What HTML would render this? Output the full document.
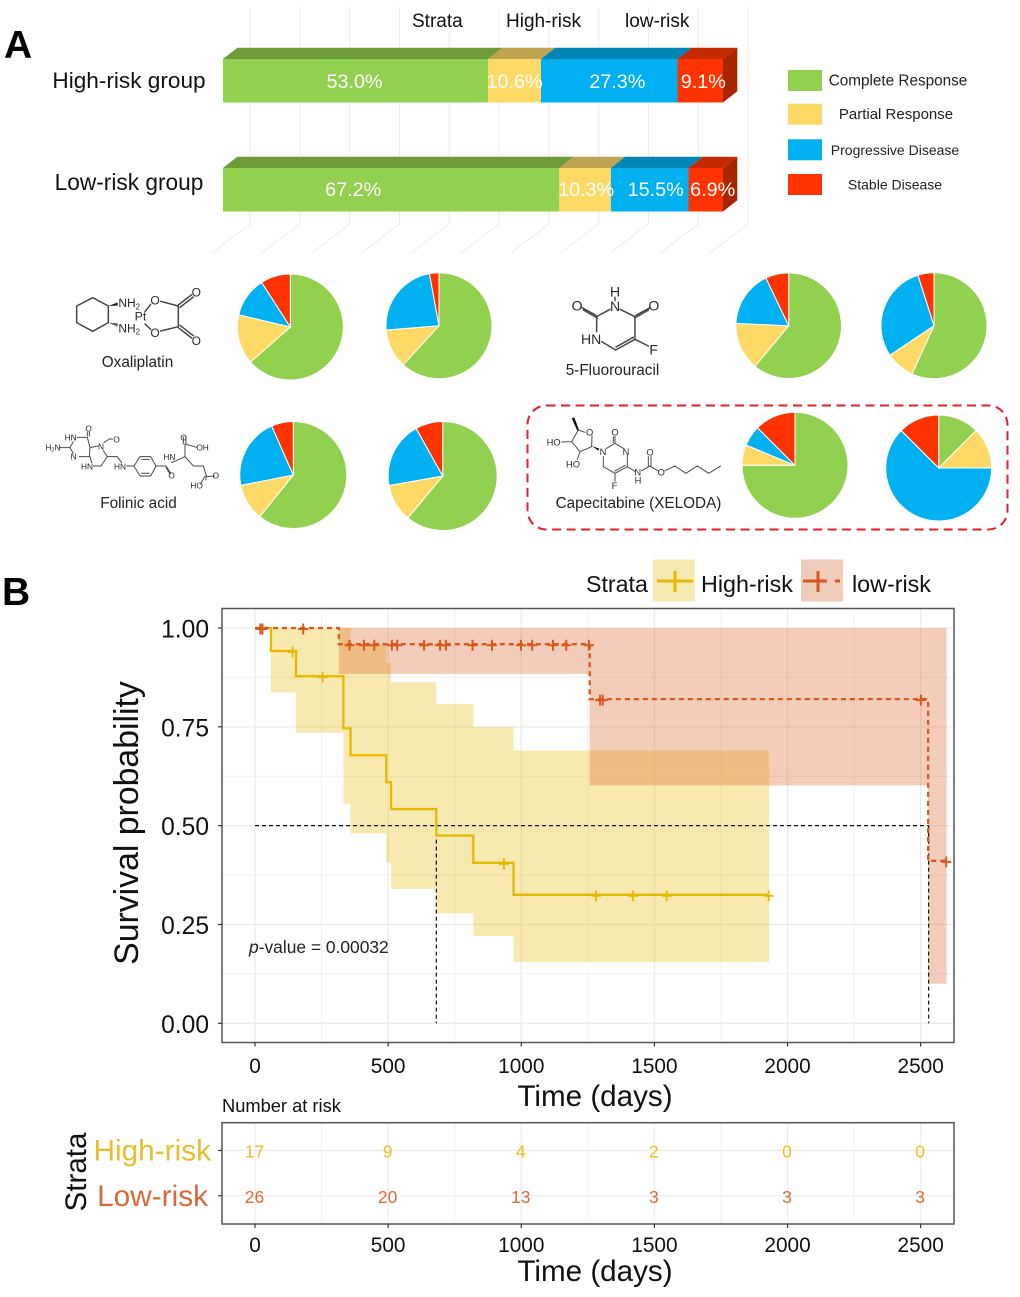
<!DOCTYPE html>
<html lang="en">
<head>
<meta charset="utf-8">
<title>Risk groups: treatment response and survival</title>
<style>
  html, body { margin: 0; padding: 0; background: #fff; }
  svg { display: block; font-family: "Liberation Sans", sans-serif; }
  .bond { fill: none; stroke: #444; stroke-width: 4.4; stroke-linecap: round; stroke-linejoin: round; }
  .bond-thin { fill: none; stroke: #4a4a4a; stroke-width: 3; stroke-linecap: round; stroke-linejoin: round; }
  .atom { fill: #2a2a2a; }
  .caption { font-size: 15.3px; fill: #222; text-anchor: middle; }
</style>
</head>
<body>
<svg id="figure" xmlns="http://www.w3.org/2000/svg" width="1020" height="1297" viewBox="0 0 1020 1297">
  <rect width="1020" height="1297" fill="#fff"/>

  <text x="4" y="58" font-size="39" font-weight="bold" fill="#000">A</text>
  <text x="2" y="605" font-size="39" font-weight="bold" fill="#000">B</text>

  <g id="bar-floor"></g>
  <g font-size="19" fill="#111">
    <text x="412" y="27">Strata</text>
    <text x="506" y="27">High-risk</text>
    <text x="625" y="27">low-risk</text>
  </g>
  <text x="129" y="88" font-size="22.6" text-anchor="middle" fill="#111">High-risk group</text>
  <text x="129" y="190" font-size="22.7" text-anchor="middle" fill="#111">Low-risk group</text>
  <g id="bars"></g>
  <g id="bar-legend"></g>

  <!-- Oxaliplatin -->
  <g transform="translate(30,260) scale(0.3333)">
    <path class="bond" d="M140,138 L188,113 L235,138 L235,188 L188,214 L140,188 Z"/>
    <path d="M235,138 L263,127 L263,137 Z" fill="#222"/>
    <path d="M235,188 L263,190 L263,200 Z" fill="#555"/>
    <path class="bond" d="M345,155 L362,133 M345,192 L362,208 M392,124 L445,138 M392,213 L445,200 M445,138 L445,200 M445,135 L485,104 M450,142 L490,111 M445,203 L485,234 M450,196 L490,227"/>
    <g class="atom" font-size="36">
      <text x="265" y="141">NH<tspan font-size="24" dy="7">2</tspan></text>
      <text x="265" y="217">NH<tspan font-size="24" dy="7">2</tspan></text>
      <text x="314" y="181" font-size="37">Pt</text>
      <text x="361" y="133">O</text>
      <text x="361" y="231">O</text>
      <text x="485" y="109">O</text>
      <text x="485" y="255">O</text>
    </g>
  </g>
  <text class="caption" x="137.5" y="367">Oxaliplatin</text>

  <!-- Folinic acid -->
  <g transform="translate(30,260) scale(0.3333)">
    <path class="bond-thin" d="M88,563 L118,563 M120,563 L130,545 M120,563 L130,580 M142,532 L172,532 M172,532 L180,563 M178,528 L178,516 M172,528 L172,516 M148,590 L178,590 M178,590 L180,563 M180,563 L204,558 M180,590 L185,608 M190,618 L213,618 L232,590 L220,572 M232,590 L262,590 L275,608 M222,548 L238,537 L248,537 M290,618 L312,618 L330,590 L362,590 L378,618 L362,648 L330,648 L312,618 M335,598 L358,598 M335,640 L358,640 M378,618 L408,618 L422,640 M408,622 L420,642 M425,608 L465,590 M465,590 L465,552 L500,562 M460,552 L460,530 M468,552 L468,530 M465,590 L490,618 L520,618 L530,650 M530,650 L553,648 M528,646 L528,660 M524,650 L512,672"/>
    <g class="atom" font-size="25">
      <text x="166" y="514">O</text>
      <text x="104" y="541">HN</text>
      <text x="46" y="571">H<tspan font-size="17" dy="4">2</tspan><tspan dy="-4">N</tspan></text>
      <text x="122" y="599">N</text>
      <text x="153" y="628">HN</text>
      <text x="204" y="569">N</text>
      <text x="250" y="547">O</text>
      <text x="252" y="628">HN</text>
      <text x="400" y="600">HN</text>
      <text x="415" y="656">O</text>
      <text x="451" y="541">O</text>
      <text x="499" y="571">OH</text>
      <text x="548" y="656">O</text>
      <text x="481" y="685">HO</text>
    </g>
  </g>
  <text class="caption" x="138.5" y="508">Folinic acid</text>

  <!-- 5-Fluorouracil -->
  <g transform="translate(520,260) scale(0.3333)">
    <path class="bond" d="M270,148 L230,170 L230,215 M300,148 L345,170 L345,238 L287,270 L245,245 M340,232 L288,261 M345,238 L385,258 M232,174 L190,150 M228,166 L186,143 M344,174 L386,150 M348,166 L390,143 M285,112 L285,122"/>
    <g class="atom" font-size="42">
      <text x="270" y="110">H</text>
      <text x="270" y="153">N</text>
      <text x="155" y="152">O</text>
      <text x="385" y="152">O</text>
      <text x="183" y="252">HN</text>
      <text x="388" y="284">F</text>
    </g>
  </g>
  <text class="caption" x="612.5" y="375">5-Fluorouracil</text>

  <!-- Capecitabine highlight -->
  <rect x="527.5" y="405.5" width="480" height="124" rx="19" fill="none" stroke="#e5202a" stroke-width="2" stroke-dasharray="9 5.5"/>
  <g transform="translate(520,260) scale(0.3333)">
    <path d="M155,475 L163,472 L177,510 L172,512 Z" fill="#111"/>
    <path class="bond-thin" d="M175,510 L195,517 M216,527 L215,560 L180,575 L155,545 L175,510 M125,546 L155,545 M172,598 L180,575 M260,565 L285,550 L310,565 M322,585 L322,620 L285,640 L250,620 L250,590 M316,616 L285,633 M285,550 L285,530 M280,548 L280,530 M285,640 L285,664 M322,620 L345,634 M365,632 L390,618 L413,632 M385,618 L385,590 M393,618 L393,590 M435,632 L465,618 L498,640 L532,618 L566,640 L602,618"/>
    <path d="M215,558 L238,566 L235,572 Z" fill="#111"/>
    <g class="atom" font-size="28">
      <text x="80" y="557">HO</text>
      <text x="138" y="622">HO</text>
      <text x="198" y="527">O</text>
      <text x="239" y="585">N</text>
      <text x="274" y="526">O</text>
      <text x="308" y="585">N</text>
      <text x="343" y="647">N</text>
      <text x="344" y="670">H</text>
      <text x="379" y="587">O</text>
      <text x="413" y="647">O</text>
      <text x="275" y="687">F</text>
    </g>
  </g>
  <text class="caption" x="638.5" y="508">Capecitabine (XELODA)</text>

  <g id="pies"></g>

  <!-- Survival legend -->
  <g>
    <text x="586" y="592" font-size="23.2" fill="#111">Strata</text>
    <rect x="653" y="559.5" width="42" height="42" fill="#f7e9b2"/>
    <path d="M657,581 H693 M675,571 V592" stroke="#e7b800" stroke-width="3" fill="none"/>
    <text x="701" y="592" font-size="23.3" fill="#111">High-risk</text>
    <rect x="801" y="559.5" width="42" height="42" fill="#f0cdbb"/>
    <path d="M803,581 H827 M835,581 H840 M818,571 V592" stroke="#d9581c" stroke-width="3" fill="none"/>
    <text x="852" y="592" font-size="23.3" fill="#111">low-risk</text>
  </g>

  <g id="km"></g>

  <text transform="translate(138,823) rotate(-90)" font-size="33.8" text-anchor="middle" fill="#111">Survival probability</text>
  <text x="595" y="1106" font-size="29.6" text-anchor="middle" fill="#111">Time (days)</text>
  <text x="249" y="953" font-size="17.4" fill="#222"><tspan font-style="italic">p</tspan>-value = 0.00032</text>

  <text x="222" y="1112" font-size="18.3" fill="#111">Number at risk</text>
  <g id="risk"></g>
  <text transform="translate(86,1172) rotate(-90)" font-size="29.6" text-anchor="middle" fill="#111">Strata</text>
  <text x="595" y="1281" font-size="29.6" text-anchor="middle" fill="#111">Time (days)</text>
</svg>

<script>
// ---------- Response categories ----------
const responseCategories = ['Complete Response', 'Partial Response', 'Progressive Disease', 'Stable Disease'];
const responseColors = ['#92d050', '#ffd966', '#00b0f0', '#ff3300'];
const responseTopColors = ['#6e9a38', '#c0a351', '#0085b5', '#c42a00'];

// ---------- Stacked bars (%) ----------
const barGroups = ['high-risk', 'low-risk'];
const highRiskShares = [53.0, 10.6, 27.3, 9.1];
const lowRiskShares = [67.2, 10.3, 15.5, 6.9];

// ---------- Pies (% clockwise from 12 o'clock) ----------
const oxaliplatinHigh = [63.5, 15.2, 12.2, 9.1];
const oxaliplatinLow = [61.8, 11.9, 23.4, 2.9];
const folinicHigh = [60.8, 11.1, 21.5, 6.6];
const folinicLow = [61.0, 11.2, 19.7, 8.1];
const fluorouracilHigh = [61.0, 14.7, 17.2, 7.1];
const fluorouracilLow = [56.8, 8.8, 29.5, 4.9];
const capecitabineHigh = [75.0, 6.25, 6.25, 12.5];
const capecitabineLow = [12.5, 12.5, 62.5, 12.5];

// ---------- Kaplan-Meier: high-risk ----------
const highTimes = [0, 60, 154, 332, 359, 493, 511, 681, 820, 971, 1931];
const highSurvival = [1, 0.942, 0.878, 0.746, 0.678, 0.61, 0.542, 0.475, 0.406, 0.325, 0.325];
const highUpper = [1, 1, 1, 1, 0.959, 0.911, 0.863, 0.808, 0.75, 0.69, 0.69];
const highLower = [1, 0.837, 0.735, 0.555, 0.48, 0.406, 0.34, 0.278, 0.221, 0.155, 0.155];
const highCensored = [141, 254, 935, 1281, 1420, 1546, 1929];

// ---------- Kaplan-Meier: low-risk ----------
const lowTimes = [0, 315, 1257, 2528, 2597];
const lowSurvival = [1, 0.959, 0.82, 0.411, 0.411];
const lowUpper = [1, 1, 1, 1, 1];
const lowLower = [1, 0.884, 0.602, 0.1, 0.1];
const lowCensored = [20, 28, 181, 355, 409, 448, 514, 534, 635, 695, 717, 817, 890, 999, 1041, 1119, 1169, 1254, 1296, 1306, 2501, 2596];

// ---------- Median survival ----------
const medianTimes = [681, 2530];
const medianLevel = 0.5;

// ---------- Axes ----------
const timeTicks = [0, 500, 1000, 1500, 2000, 2500];
const timeMinorTicks = [250, 750, 1250, 1750, 2250];
const survivalTicks = [0, 0.25, 0.5, 0.75, 1];
const survivalTickLabels = ['0.00', '0.25', '0.50', '0.75', '1.00'];
const survivalMinorTicks = [0.125, 0.375, 0.625, 0.875];

// ---------- Number at risk ----------
const riskStrata = ['High-risk', 'Low-risk'];
const riskHigh = [17, 9, 4, 2, 0, 0];
const riskLow = [26, 20, 13, 3, 3, 3];

const SVGNS = 'http://www.w3.org/2000/svg';
function make(tag, attrs, parent, text) {
  const node = document.createElementNS(SVGNS, tag);
  for (const key in attrs) node.setAttribute(key, attrs[key]);
  if (text !== undefined) node.textContent = text;
  parent.appendChild(node);
  return node;
}

const xTime = t => 255 + t * 0.26626;
const ySurv = s => 1023.3 - s * 395.3;

// ---------- Draw bar backdrop ----------
(function drawBackdrop() {
  const g = document.getElementById('bar-floor');
  for (let i = 0; i <= 10; i++) {
    const x = 250 + i * 49.8;
    const line = make('path', { d: `M${x},7 V224 L${x - 38},253`, fill: 'none', stroke: '#ececec', 'stroke-width': 1 }, g);
    
    
  }
})();

// ---------- Draw stacked bars ----------
(function drawBars() {
  const g = document.getElementById('bars');
  const left = 223, fullWidth = 500, depthX = 14.3, depthY = 11.3, barHeight = 43.5;
  const tops = [59, 168];
  const labelNudge = [[-1, 0, 8, 3], [-38, 1, 6, 7]];
  const labelBaseline = [88, 196];
  [highRiskShares, lowRiskShares].forEach((shares, row) => {
    const total = shares.reduce((a, b) => a + b, 0);
    const y = tops[row];
    let cum = 0;
    shares.forEach((share, i) => {
      const x0 = left + fullWidth * cum / total;
      cum += share;
      const x1 = left + fullWidth * cum / total;

      const top = make('polygon', {
        points: `${x0},${y} ${x1},${y} ${x1 + depthX},${y - depthY} ${x0 + depthX},${y - depthY}`,
        fill: responseTopColors[i]
      }, g);
      
      

      const front = make('rect', { x: x0, y: y, width: x1 - x0, height: barHeight, fill: responseColors[i] }, g);
      
      

      if (i === shares.length - 1) {
        const side = make('polygon', {
          points: `${x1},${y} ${x1 + depthX},${y - depthY} ${x1 + depthX},${y + barHeight - depthY} ${x1},${y + barHeight}`,
          fill: '#a82500'
        }, g);
        
        
      }
    });
    cum = 0;
    shares.forEach((share, i) => {
      const x0 = left + fullWidth * cum / total;
      cum += share;
      const x1 = left + fullWidth * cum / total;
      const label = make('text', {
        x: (x0 + x1) / 2 + labelNudge[row][i], y: labelBaseline[row],
        'font-size': 19.8, fill: '#fff', 'text-anchor': 'middle'
      }, g, share.toFixed(1) + '%');
      
      
    });
  });
})();

// ---------- Draw bar legend ----------
(function drawLegend() {
  const g = document.getElementById('bar-legend');
  const ys = [70, 103.7, 139.3, 174];
  const centers = [898, 896, 895, 895];
  const widths = [15.3, 15, 14, 14];
  responseCategories.forEach((name, i) => {
    const swatch = make('rect', { x: 788, y: ys[i], width: 34, height: 21, fill: responseColors[i] }, g);
    
    
    const label = make('text', { x: centers[i], y: ys[i] + 15.5, 'font-size': widths[i], fill: '#222', 'text-anchor': 'middle' }, g, name);
    
    
  });
})();

// ---------- Draw pies ----------
function drawPie(name, values, cx, cy, r) {
  const g = make('g', {}, document.getElementById('pies'));
  
  
  const total = values.reduce((a, b) => a + b, 0);
  let cum = 0;
  values.forEach((v, i) => {
    const a0 = cum / total * 2 * Math.PI;
    cum += v;
    const a1 = cum / total * 2 * Math.PI;
    const large = a1 - a0 > Math.PI ? 1 : 0;
    const p0 = [cx + r * Math.sin(a0), cy - r * Math.cos(a0)];
    const p1 = [cx + r * Math.sin(a1), cy - r * Math.cos(a1)];
    const slice = make('path', {
      d: `M${cx},${cy} L${p0[0]},${p0[1]} A${r},${r} 0 ${large} 1 ${p1[0]},${p1[1]} Z`,
      fill: responseColors[i], stroke: '#fff', 'stroke-width': 1
    }, g);
    
    
  });
}
drawPie('oxaliplatin-high', oxaliplatinHigh, 290.3, 327, 53);
drawPie('oxaliplatin-low', oxaliplatinLow, 439, 325.7, 53);
drawPie('folinic-high', folinicHigh, 293.3, 475, 53.5);
drawPie('folinic-low', folinicLow, 442.7, 476, 54.5);
drawPie('fluorouracil-high', fluorouracilHigh, 788.7, 325.7, 52.8);
drawPie('fluorouracil-low', fluorouracilLow, 934, 325.7, 53);
drawPie('capecitabine-high', capecitabineHigh, 795, 465.3, 53);
drawPie('capecitabine-low', capecitabineLow, 938.7, 468, 53);

// ---------- Draw KM plot ----------
function stepPath(times, values) {
  let d = `M${xTime(times[0])},${ySurv(values[0])}`;
  for (let i = 1; i < times.length; i++) {
    d += ` H${xTime(times[i])} V${ySurv(values[i])}`;
  }
  return d;
}
function ribbonPoints(times, upper, lower) {
  const pts = [];
  for (let i = 0; i < times.length - 1; i++) {
    pts.push(`${xTime(times[i])},${ySurv(upper[i])}`, `${xTime(times[i + 1])},${ySurv(upper[i])}`);
  }
  for (let i = times.length - 2; i >= 0; i--) {
    pts.push(`${xTime(times[i + 1])},${ySurv(lower[i])}`, `${xTime(times[i])},${ySurv(lower[i])}`);
  }
  return pts.join(' ');
}
function survivalAt(times, values, t) {
  let s = values[0];
  for (let i = 0; i < times.length; i++) {
    if (times[i] <= t) s = values[i];
  }
  return s;
}

(function drawKM() {
  const g = document.getElementById('km');
  const L = 222, R = 954, T = 608.5, B = 1042.5;

  timeMinorTicks.forEach(t => {
    const line = make('line', { x1: xTime(t), x2: xTime(t), y1: T, y2: B, stroke: '#f0f0f0', 'stroke-width': 1 }, g);
    
    
  });
  survivalMinorTicks.forEach(s => {
    const line = make('line', { x1: L, x2: R, y1: ySurv(s), y2: ySurv(s), stroke: '#f0f0f0', 'stroke-width': 1 }, g);
    
    
  });
  timeTicks.forEach(t => {
    const line = make('line', { x1: xTime(t), x2: xTime(t), y1: T, y2: B, stroke: '#ebebeb', 'stroke-width': 1.3 }, g);
    
    
  });
  survivalTicks.forEach(s => {
    const line = make('line', { x1: L, x2: R, y1: ySurv(s), y2: ySurv(s), stroke: '#ebebeb', 'stroke-width': 1.3 }, g);
    
    
  });

  const bandHigh = make('polygon', { points: ribbonPoints(highTimes, highUpper, highLower), fill: '#e7b800', 'fill-opacity': 0.31 }, g);
  
  
  const bandLow = make('polygon', { points: ribbonPoints(lowTimes, lowUpper, lowLower), fill: '#d9581c', 'fill-opacity': 0.3 }, g);
  
  

  const medianH = make('line', {
    x1: xTime(0), x2: xTime(Math.max(...medianTimes)), y1: ySurv(medianLevel), y2: ySurv(medianLevel),
    stroke: '#111', 'stroke-width': 1.2, 'stroke-dasharray': '4 3'
  }, g);
  
  
  medianTimes.forEach((t, i) => {
    const line = make('line', {
      x1: xTime(t), x2: xTime(t), y1: ySurv(medianLevel), y2: ySurv(0),
      stroke: '#111', 'stroke-width': 1.2, 'stroke-dasharray': '4 3'
    }, g);
    
    
  });

  const lineHigh = make('path', { d: stepPath(highTimes, highSurvival), fill: 'none', stroke: '#e7b800', 'stroke-width': 2.3 }, g);
  
  
  const lineLow = make('path', { d: stepPath(lowTimes, lowSurvival), fill: 'none', stroke: '#d9581c', 'stroke-width': 2.3, 'stroke-dasharray': '5 4' }, g);
  
  

  highCensored.forEach(t => {
    const x = xTime(t), y = ySurv(survivalAt(highTimes, highSurvival, t)) + 1;
    const mark = make('path', { d: `M${x - 5},${y} H${x + 5} M${x},${y - 5.5} V${y + 5.5}`, stroke: '#e7b800', 'stroke-width': 1.8, fill: 'none' }, g);
    
    
  });
  lowCensored.forEach(t => {
    const x = xTime(t), y = ySurv(survivalAt(lowTimes, lowSurvival, t)) + 1;
    const mark = make('path', { d: `M${x - 5},${y} H${x + 5} M${x},${y - 5.5} V${y + 5.5}`, stroke: '#d9581c', 'stroke-width': 2, fill: 'none' }, g);
    
    
  });

  const frame = make('rect', { x: L, y: T, width: R - L, height: B - T, fill: 'none', stroke: '#555', 'stroke-width': 1.5 }, g);
  
  

  survivalTicks.forEach((s, i) => {
    const tick = make('line', { x1: L - 4, x2: L, y1: ySurv(s), y2: ySurv(s), stroke: '#333', 'stroke-width': 1.2 }, g);
    
    
    const label = make('text', { x: 209, y: ySurv(s) + 9.5, 'font-size': 24.6, 'text-anchor': 'end', fill: '#111' }, g, survivalTickLabels[i]);
    
    
  });
  timeTicks.forEach(t => {
    const tick = make('line', { x1: xTime(t), x2: xTime(t), y1: B, y2: B + 4, stroke: '#333', 'stroke-width': 1.2 }, g);
    
    
    const label = make('text', { x: xTime(t), y: 1073, 'font-size': 20.8, 'text-anchor': 'middle', fill: '#111' }, g, String(t));
    
    
  });
})();

// ---------- Draw risk table ----------
(function drawRisk() {
  const g = document.getElementById('risk');
  const L = 222, R = 954, T = 1122.7, B = 1224;
  const rowY = [1150.5, 1195.8];
  const rowColors = ['#ecbe1e', '#df6a38'];
  const labelColors = ['#e9bd2c', '#d9693a'];

  timeMinorTicks.forEach(t => {
    const line = make('line', { x1: xTime(t), x2: xTime(t), y1: T, y2: B, stroke: '#f0f0f0', 'stroke-width': 1 }, g);
    
    
  });
  timeTicks.forEach(t => {
    const line = make('line', { x1: xTime(t), x2: xTime(t), y1: T, y2: B, stroke: '#ebebeb', 'stroke-width': 1.2 }, g);
    
    
  });
  rowY.forEach(y => {
    const line = make('line', { x1: L, x2: R, y1: y, y2: y, stroke: '#ebebeb', 'stroke-width': 1.2 }, g);
    
    
  });

  const frame = make('rect', { x: L, y: T, width: R - L, height: B - T, fill: 'none', stroke: '#555', 'stroke-width': 1.5 }, g);
  
  

  [riskHigh, riskLow].forEach((row, r) => {
    const stratum = make('text', { x: 211 - r * 3, y: rowY[r] + 10, 'font-size': 29.8, 'text-anchor': 'end', fill: labelColors[r] }, g, riskStrata[r]);
    
    
    const tick = make('line', { x1: L - 4, x2: L, y1: rowY[r], y2: rowY[r], stroke: '#333', 'stroke-width': 1.2 }, g);
    
    
    row.forEach((n, i) => {
      const cell = make('text', { x: xTime(timeTicks[i]) - 0.5, y: rowY[r] + 7, 'font-size': 17.5, 'text-anchor': 'middle', fill: rowColors[r] }, g, String(n));
      
      
    });
  });
  timeTicks.forEach(t => {
    const tick = make('line', { x1: xTime(t), x2: xTime(t), y1: B, y2: B + 4, stroke: '#333', 'stroke-width': 1.2 }, g);
    
    
    const label = make('text', { x: xTime(t), y: 1252, 'font-size': 20.8, 'text-anchor': 'middle', fill: '#111' }, g, String(t));
    
    
  });
})();
</script>
</body>
</html>
